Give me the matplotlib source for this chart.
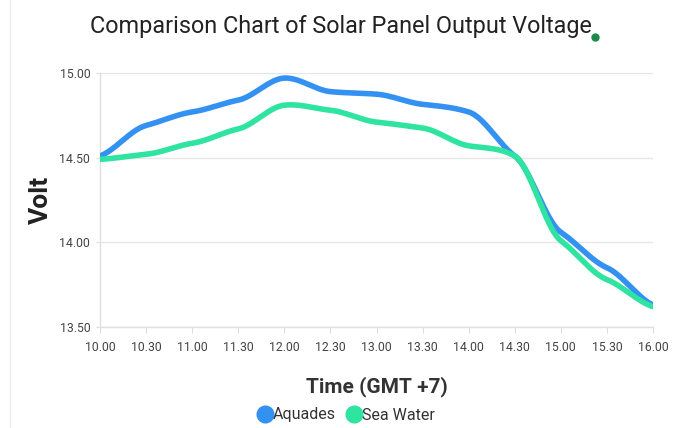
import numpy as np
import matplotlib
matplotlib.use("Agg")
import matplotlib.pyplot as plt
from matplotlib.lines import Line2D

times = ["10.00", "10.30", "11.00", "11.30", "12.00", "12.30", "13.00",
         "13.30", "14.00", "14.30", "15.00", "15.30", "16.00"]
aquades = [14.51, 14.69, 14.77, 14.84, 14.97, 14.89, 14.875, 14.815, 14.77, 14.51, 14.06, 13.85, 13.63]
sea_water = [14.49, 14.52, 14.585, 14.67, 14.81, 14.78, 14.71, 14.675, 14.57, 14.51, 14.01, 13.78, 13.62]
y_ticks = [13.5, 14.0, 14.5, 15.0]

plt.rcParams['font.family'] = ['Roboto', 'DejaVu Sans']


def smooth(y, tension=0.55, n=40):
    y = np.asarray(y, float)
    x = np.arange(len(y), dtype=float)
    m = np.zeros_like(y)
    m[1:-1] = (y[2:] - y[:-2]) / 2.0
    m[0] = y[1] - y[0]
    m[-1] = y[-1] - y[-2]
    m *= tension
    xs, ys = [], []
    for i in range(len(y) - 1):
        t = np.linspace(0, 1, n, endpoint=False)
        h00 = 2 * t**3 - 3 * t**2 + 1
        h10 = t**3 - 2 * t**2 + t
        h01 = -2 * t**3 + 3 * t**2
        h11 = t**3 - t**2
        xs.append(x[i] + t)
        ys.append(h00 * y[i] + h10 * m[i] + h01 * y[i + 1] + h11 * m[i + 1])
    xs.append([x[-1]])
    ys.append([y[-1]])
    return np.concatenate(xs), np.concatenate(ys)


fig = plt.figure(figsize=(6.85, 4.28), dpi=100)
ax = fig.add_axes([100 / 685, 1 - 327 / 428, 553 / 685, 254 / 428])

blue = "#3391f2"
green = "#2fe3a0"
for vals, col in [(aquades, blue), (sea_water, green)]:
    xs, ys = smooth(vals)
    ax.plot(xs, ys, color=col, lw=4.0, solid_capstyle='round', zorder=3)

ax.set_xlim(0, len(times) - 1)
ax.set_ylim(13.5, 15.0)
ax.set_xticks(range(len(times)))
ax.set_xticklabels(times)
ax.set_yticks(y_ticks)
ax.set_yticklabels([f"{v:.2f}" for v in y_ticks])
ax.tick_params(axis='both', labelsize=8.8, colors="#444444", length=4, width=0.8)
ax.tick_params(axis='x', color="#dddddd", pad=6)
ax.tick_params(axis='y', color="#dddddd", length=3, pad=4)
for lbl in ax.get_xticklabels() + ax.get_yticklabels():
    lbl.set_color("#444444")
ax.grid(axis='y', color="#e6e6e6", lw=1)
ax.set_axisbelow(True)
for s in ['top', 'right']:
    ax.spines[s].set_visible(False)
for s in ['left', 'bottom']:
    ax.spines[s].set_color("#e0e0e0")
    ax.spines[s].set_linewidth(1)

ax.set_ylabel("Volt", fontsize=19, fontweight='bold', color="#222222")
ax.yaxis.set_label_coords(-0.086, 0.5)
fig.text(377 / 685, 1 - 387 / 428, "Time (GMT +7)", fontsize=15, fontweight='bold',
         color="#333333", ha='center', va='center')
fig.text(341 / 685, 1 - 26 / 428, "Comparison Chart of Solar Panel Output Voltage",
         fontsize=16.8, color="#222222", ha='center', va='center')

handles = [Line2D([0], [0], marker='o', color='none', markerfacecolor=blue, markeredgecolor=blue,
                  markersize=12, label="Aquades"),
           Line2D([0], [0], marker='o', color='none', markerfacecolor=green, markeredgecolor=green,
                  markersize=12, label="Sea Water")]
fig.legend(handles=handles, loc='center', bbox_to_anchor=(345 / 685, 1 - 415 / 428), ncol=2,
           frameon=False, fontsize=11.5, handletextpad=-0.1, columnspacing=0.5, handlelength=1.2,
           labelcolor="#333333")

# decorative dot near title and left border line
fig.add_artist(Line2D([595 / 685], [1 - 37 / 428], marker='o', color='#1a8a4a', markersize=5,
                      transform=fig.transFigure))
fig.add_artist(Line2D([10 / 685, 10 / 685], [0, 1], color="#eeeeee", lw=1, transform=fig.transFigure))

fig.savefig("out.png", dpi=100)
